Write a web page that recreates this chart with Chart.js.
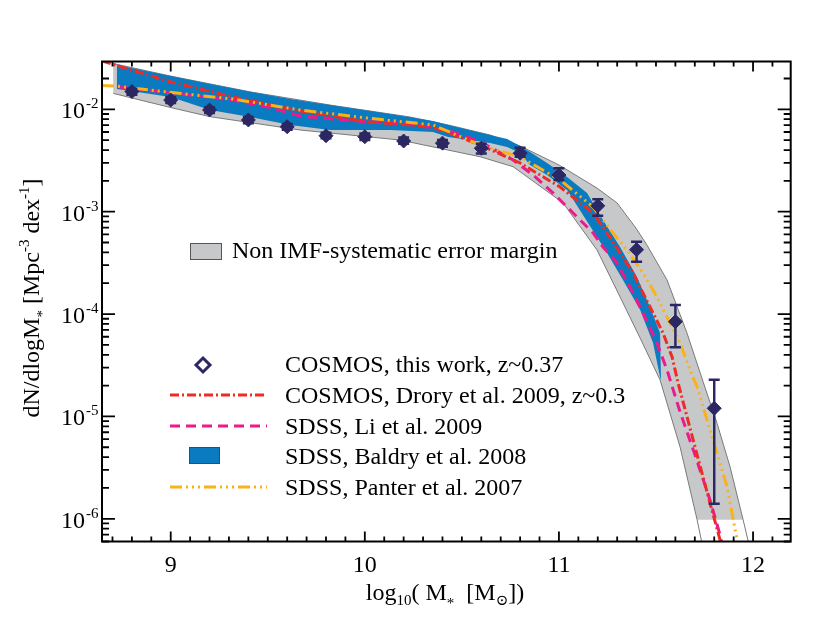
<!DOCTYPE html>
<html><head><meta charset="utf-8">
<script src="https://cdn.jsdelivr.net/npm/chart.js@4"></script>
<style>html,body{margin:0;padding:0;background:#fff}canvas{display:block}</style>
</head><body>
<canvas id="c" width="830" height="623"></canvas>
<script>
// ---------------- data ----------------
const massBins   = [8.8, 9.0, 9.2, 9.4, 9.6, 9.8, 10.0, 10.2, 10.4, 10.6, 10.8, 11.0, 11.2, 11.4, 11.6, 11.8];
const cosmosPhi  = [0.0149, 0.0123, 0.00985, 0.00787, 0.00676, 0.00552, 0.0054, 0.0049, 0.00467, 0.00416, 0.00372, 0.00228, 0.00114, 0.000425, 0.0000843, 0.0000120];
const cosmosErrHi= [0.0159, 0.0132, 0.0105, 0.0084, 0.0072, 0.0059, 0.0058, 0.0053, 0.0050, 0.0046, 0.00422, 0.00265, 0.00132, 0.000509, 0.0001227, 0.0000228];
const cosmosErrLo= [0.0139, 0.0115, 0.0092, 0.0073, 0.0063, 0.0052, 0.0050, 0.0046, 0.0043, 0.0037, 0.00344, 0.00204, 0.00091, 0.000325, 0.0000474, 0.0000014];

const droryMass = [8.646, 9.0, 9.321, 9.666, 10.011, 10.351, 10.594, 10.800, 11.006, 11.176, 11.248, 11.315, 11.382, 11.433, 11.485, 11.536, 11.583, 11.614, 11.675, 11.727, 11.778, 11.830, 11.840];
const droryPhi  = [2.96e-2, 1.85e-2, 1.32e-2, 9.62e-3, 7.57e-3, 6.72e-3, 4.48e-3, 2.99e-3, 1.74e-3, 9.71e-4, 6.19e-4, 3.95e-4, 2.52e-4, 1.61e-4, 1.025e-4, 6.54e-5, 3.81e-5, 2.12e-5, 7.72e-6, 3.29e-6, 1.43e-6, 6.22e-7, 5.5e-7];

const liMass = [8.729, 9.031, 9.321, 9.496, 9.666, 9.836, 10.011, 10.181, 10.424, 10.594, 10.764, 10.867, 10.970, 11.073, 11.176, 11.227, 11.299, 11.366, 11.433, 11.505, 11.557, 11.624, 11.701, 11.778, 11.830, 11.840];
const liPhi  = [1.66e-2, 1.43e-2, 1.23e-2, 1.06e-2, 8.6e-3, 8.04e-3, 7.57e-3, 7.3e-3, 6.28e-3, 4.83e-3, 3.2e-3, 2.28e-3, 1.52e-3, 9.71e-4, 6.19e-4, 4.52e-4, 3.16e-4, 1.84e-4, 1.025e-4, 5.22e-5, 2.84e-5, 1.106e-5, 4.21e-6, 1.53e-6, 6.96e-7, 5.56e-7];

const panterMass = [8.646, 8.713, 9.031, 9.321, 9.666, 10.011, 10.351, 10.594, 10.800, 11.006, 11.176, 11.279, 11.351, 11.433, 11.505, 11.572, 11.624, 11.675, 11.712, 11.789, 11.866, 11.918, 11.923];
const panterPhi  = [1.71e-2, 1.69e-2, 1.44e-2, 1.26e-2, 9.84e-3, 8.22e-3, 7.03e-3, 4.48e-3, 3.42e-3, 2.04e-3, 1.11e-3, 6.19e-4, 4.23e-4, 2.52e-4, 1.47e-4, 8.19e-5, 5.22e-5, 2.84e-5, 1.94e-5, 6.31e-6, 2.05e-6, 6.22e-7, 5.56e-7];

const baldryUpperMass = [8.723, 9.0, 9.203, 9.409, 9.615, 9.821, 10.130, 10.351, 10.429, 10.645, 10.733, 10.800, 10.851, 10.939, 11.042, 11.145, 11.227, 11.315, 11.402, 11.469, 11.521, 11.526];
const baldryUpperPhi  = [2.71e-2, 2.11e-2, 1.77e-2, 1.48e-2, 1.26e-2, 1.10e-2, 9.0e-3, 7.69e-3, 7.03e-3, 5.61e-3, 5.13e-3, 4.38e-3, 3.83e-3, 2.99e-3, 2.18e-3, 1.52e-3, 8.3e-4, 4.52e-4, 2.30e-4, 1.17e-4, 6.54e-5, 2.27e-5];
const baldryLowerMass = [8.723, 9.0, 9.203, 9.409, 9.615, 9.821, 10.130, 10.351, 10.429, 10.645, 10.733, 10.800, 10.851, 10.939, 11.042, 11.160, 11.248, 11.330, 11.418, 11.485, 11.521];
const baldryLowerPhi  = [1.58e-2, 1.32e-2, 9.84e-3, 8.41e-3, 7.03e-3, 6.28e-3, 6.28e-3, 6.0e-3, 5.36e-3, 4.69e-3, 4.28e-3, 3.74e-3, 2.86e-3, 2.28e-3, 1.63e-3, 7.25e-4, 3.95e-4, 2.15e-4, 1.10e-4, 5.22e-5, 2.43e-5];

const bandUpperMass = [8.703, 9.0, 9.409, 9.821, 10.233, 10.429, 10.645, 10.800, 11.000, 11.196, 11.299, 11.397, 11.454, 11.557, 11.660, 11.742, 11.815, 11.882, 11.949];
const bandUpperPhi  = [2.80e-2, 2.11e-2, 1.48e-2, 1.10e-2, 8.41e-3, 7.03e-3, 5.61e-3, 4.38e-3, 2.86e-3, 1.70e-3, 1.22e-3, 6.9e-4, 4.7e-4, 2.15e-4, 6.5e-5, 2.2e-5, 8.5e-6, 3.2e-6, 9.76e-7];
const bandLowerMass = [8.704, 9.0, 9.203, 9.666, 10.181, 10.594, 10.764, 11.021, 11.196, 11.315, 11.418, 11.521, 11.624, 11.712];
const bandLowerPhi  = [1.43e-2, 1.04e-2, 8.47e-3, 6.28e-3, 5.01e-3, 3.44e-3, 2.75e-3, 1.22e-3, 4.23e-4, 1.47e-4, 5.84e-5, 2.27e-5, 5.04e-6, 9.76e-7];
const bandUpperTailMass = [11.949, 11.980];
const bandUpperTailPhi  = [9.76e-7, 5.5e-7];
const bandLowerTailMass = [11.712, 11.739];
const bandLowerTailPhi  = [9.76e-7, 5.5e-7];

const xTickValues = [9, 10, 11, 12];
const xTickLabels = ['9', '10', '11', '12'];
const yTickValues = [1e-2, 1e-3, 1e-4, 1e-5, 1e-6];
const yTickBase   = '10';
const yTickExps   = ['-2', '-3', '-4', '-5', '-6'];

const bandLegendLabel = 'Non IMF-systematic error margin';
const legendLabels = ['COSMOS, this work, z~0.37', 'COSMOS, Drory et al. 2009, z~0.3', 'SDSS, Li et al. 2009', 'SDSS, Baldry et al. 2008', 'SDSS, Panter et al. 2007'];

// ---------------- style ----------------
const FONT = "'Liberation Serif','Times New Roman','DejaVu Serif',serif";
const NAVY = '#2b2763', RED = '#ee2b25', PINK = '#ec1a8a', ORANGE = '#fbb217', BLUE = '#0a7bc1';
const GREY = '#c7c8ca', GREYEDGE = '#7a7a7a';
const DASH_RED = [9, 3, 2, 3], DASH_PINK = [10, 6], DASH_ORANGE = [12, 4, 2, 4, 2, 4, 2, 4];

const toXY = (xs, ys) => xs.map((x, i) => ({x: x, y: ys[i]}));
const rev = a => a.slice().reverse();

const bandPoly = toXY(bandUpperMass, bandUpperPhi).concat(toXY(rev(bandLowerMass), rev(bandLowerPhi)));
const baldryPoly = toXY(baldryUpperMass, baldryUpperPhi).concat(toXY(rev(baldryLowerMass), rev(baldryLowerPhi)));

function curve(label, xs, ys, color, dash) {
  return {label, data: toXY(xs, ys), borderColor: color, borderWidth: 3, borderDash: dash,
          pointRadius: 0, fill: false, tension: 0, borderCapStyle: 'butt'};
}

function richWidth(ctx, parts) {
  let w = 0;
  for (const p of parts) { ctx.font = p.s + 'px ' + FONT; w += ctx.measureText(p.t).width; }
  return w;
}
function drawRich(ctx, parts, x, y) {
  let cx = x;
  for (const p of parts) {
    ctx.font = p.s + 'px ' + FONT;
    ctx.fillText(p.t, cx, y + (p.dy || 0));
    cx += ctx.measureText(p.t).width;
  }
}

const decor = {
  id: 'decor',
  beforeDatasetDraw(chart, args) {
    if (args.index !== 0) return;
    const {ctx, chartArea: a} = chart;
    const x = chart.scales.x, y = chart.scales.y;
    ctx.save();
    ctx.beginPath(); ctx.rect(a.left, a.top, a.right - a.left, a.bottom - a.top); ctx.clip();
    ctx.strokeStyle = NAVY; ctx.lineWidth = 2.5;
    massBins.forEach((m, i) => {
      const px = x.getPixelForValue(m);
      const yh = y.getPixelForValue(cosmosErrHi[i]), yl = y.getPixelForValue(cosmosErrLo[i]);
      ctx.beginPath();
      ctx.moveTo(px, yh); ctx.lineTo(px, yl);
      ctx.moveTo(px - 5.5, yh); ctx.lineTo(px + 5.5, yh);
      ctx.moveTo(px - 5.5, yl); ctx.lineTo(px + 5.5, yl);
      ctx.stroke();
    });
    ctx.restore();
  },
  afterDraw(chart) {
    const {ctx, chartArea: a} = chart;
    const x = chart.scales.x, y = chart.scales.y;
    ctx.save();
    ctx.strokeStyle = '#000'; ctx.fillStyle = '#000';
    // tick marks inside, all four sides
    ctx.lineWidth = 1.8;
    for (let k = Math.ceil(x.min * 10 - 1e-6); k <= Math.floor(x.max * 10 + 1e-6); k++) {
      const px = x.getPixelForValue(k / 10);
      const len = (k % 10 === 0) ? 10 : 5;
      ctx.beginPath();
      ctx.moveTo(px, a.bottom); ctx.lineTo(px, a.bottom - len);
      ctx.moveTo(px, a.top); ctx.lineTo(px, a.top + len);
      ctx.stroke();
    }
    for (let e = -8; e <= 0; e++) {
      for (let m = 1; m <= 9; m++) {
        const v = m * Math.pow(10, e);
        if (v < y.min || v > y.max) continue;
        const py = y.getPixelForValue(v);
        const len = (m === 1) ? 13 : 7;
        ctx.beginPath();
        ctx.moveTo(a.left, py); ctx.lineTo(a.left + len, py);
        ctx.moveTo(a.right, py); ctx.lineTo(a.right - len, py);
        ctx.stroke();
      }
    }
    // frame
    ctx.lineWidth = 2;
    ctx.strokeRect(a.left, a.top, a.right - a.left, a.bottom - a.top);

    // tick labels
    ctx.textBaseline = 'alphabetic';
    ctx.font = '24px ' + FONT; ctx.textAlign = 'center';
    xTickValues.forEach((v, i) => ctx.fillText(xTickLabels[i], x.getPixelForValue(v), 572));
    yTickValues.forEach((v, i) => {
      const py = y.getPixelForValue(v);
      ctx.font = '24px ' + FONT; ctx.textAlign = 'right';
      ctx.fillText(yTickBase, 85, py + 9);
      ctx.font = '15px ' + FONT; ctx.textAlign = 'left';
      ctx.fillText(yTickExps[i], 86, py - 1);
    });
    ctx.textAlign = 'left';

    // axis titles
    const xParts = [{t: 'log', s: 24}, {t: '10', s: 15, dy: 5}, {t: '( M', s: 24}, {t: '*', s: 15, dy: 8},
                    {t: '  [M', s: 24}, {t: '\u2299', s: 15, dy: 5}, {t: '])', s: 24}];
    const xw = richWidth(ctx, xParts);
    drawRich(ctx, xParts, 445 - xw / 2, 600);

    const yParts = [{t: 'dN/dlogM', s: 24}, {t: '*', s: 15, dy: 8}, {t: ' [Mpc', s: 24}, {t: '-3', s: 15, dy: -10},
                    {t: ' dex', s: 24}, {t: '-1', s: 15, dy: -10}, {t: ']', s: 24}];
    ctx.save();
    ctx.translate(39, 298); ctx.rotate(-Math.PI / 2);
    const yw = richWidth(ctx, yParts);
    drawRich(ctx, yParts, -yw / 2, 0);
    ctx.restore();

    // legends
    ctx.font = '24px ' + FONT;
    ctx.fillStyle = GREY; ctx.fillRect(190, 243, 31, 16);
    ctx.strokeStyle = '#555'; ctx.lineWidth = 1; ctx.strokeRect(190.5, 243.5, 31, 16);
    ctx.fillStyle = '#000'; ctx.fillText(bandLegendLabel, 232, 258);

    const rows = [372, 403, 434, 464, 495];
    const sx0 = 170, sx1 = 267;
    // diamond
    ctx.strokeStyle = NAVY; ctx.lineWidth = 3;
    const dcx = 203, dcy = rows[0] - 7;
    ctx.beginPath(); ctx.moveTo(dcx, dcy - 7); ctx.lineTo(dcx + 7, dcy); ctx.lineTo(dcx, dcy + 7); ctx.lineTo(dcx - 7, dcy); ctx.closePath(); ctx.stroke();
    // lines
    const lineSample = (yy, color, dash) => {
      ctx.strokeStyle = color; ctx.lineWidth = 3; ctx.setLineDash(dash); ctx.lineCap = 'butt';
      ctx.beginPath(); ctx.moveTo(sx0, yy); ctx.lineTo(sx1, yy); ctx.stroke(); ctx.setLineDash([]);
    };
    lineSample(rows[1] - 8, RED, DASH_RED);
    lineSample(rows[2] - 8, PINK, DASH_PINK);
    ctx.fillStyle = BLUE; ctx.fillRect(189, rows[3] - 17, 30, 16);
    ctx.strokeStyle = '#0b5a8e'; ctx.lineWidth = 1; ctx.strokeRect(189.5, rows[3] - 16.5, 30, 16);
    lineSample(rows[4] - 8, ORANGE, DASH_ORANGE);
    ctx.fillStyle = '#000'; ctx.font = '24px ' + FONT;
    legendLabels.forEach((t, i) => ctx.fillText(t, 285, rows[i]));
    ctx.restore();
  }
};

const datasets = [
  {label: legendLabels[0], data: toXY(massBins, cosmosPhi), showLine: false, pointStyle: 'rectRot',
   pointRadius: 7, pointBackgroundColor: NAVY, pointBorderColor: NAVY, pointBorderWidth: 1, borderColor: NAVY},
  curve(legendLabels[4], panterMass, panterPhi, ORANGE, DASH_ORANGE),
  curve(legendLabels[1], droryMass, droryPhi, RED, DASH_RED),
  curve(legendLabels[2], liMass, liPhi, PINK, DASH_PINK),
  {label: legendLabels[3], data: baldryPoly, borderWidth: 0, borderColor: BLUE, backgroundColor: BLUE,
   fill: 'shape', pointRadius: 0, tension: 0},
  {label: 'band upper edge', data: toXY(bandUpperMass.concat(bandUpperTailMass.slice(1)), bandUpperPhi.concat(bandUpperTailPhi.slice(1))),
   borderColor: GREYEDGE, borderWidth: 1, pointRadius: 0, fill: false},
  {label: 'band lower edge', data: toXY(bandLowerMass.concat(bandLowerTailMass.slice(1)), bandLowerPhi.concat(bandLowerTailPhi.slice(1))),
   borderColor: GREYEDGE, borderWidth: 1, pointRadius: 0, fill: false},
  {label: bandLegendLabel, data: bandPoly, borderWidth: 0, borderColor: GREY, backgroundColor: GREY,
   fill: 'shape', pointRadius: 0, tension: 0}
];

new Chart(document.getElementById('c'), {
  type: 'line',
  data: {datasets},
  options: {
    responsive: false,
    animation: false,
    devicePixelRatio: 1,
    layout: {padding: {left: 102, top: 61.5, right: 39.3, bottom: 81.5}},
    plugins: {legend: {display: false}, tooltip: {enabled: false}, filler: {propagate: false}},
    scales: {
      x: {type: 'linear', min: 8.646, max: 12.194, grid: {display: false, drawTicks: false},
          border: {display: false}, ticks: {display: false}, afterFit: s => { s.height = 0; }},
      y: {type: 'logarithmic', min: 6.0e-7, max: 0.0293, grid: {display: false, drawTicks: false},
          border: {display: false}, ticks: {display: false}, afterFit: s => { s.width = 0; }}
    }
  },
  plugins: [decor]
});
</script>
</body></html>
